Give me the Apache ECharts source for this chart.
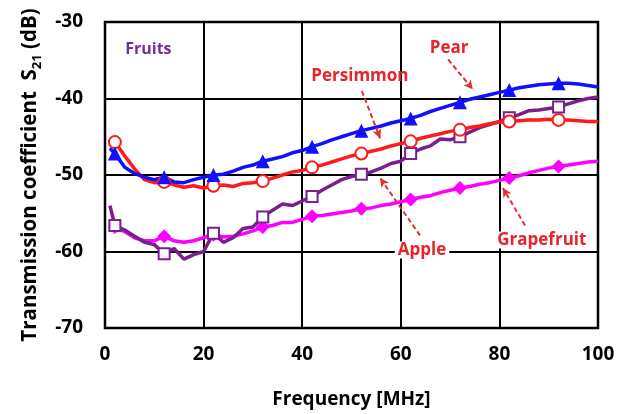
<!DOCTYPE html>
<html>
<head>
<meta charset="utf-8">
<script src="https://cdn.jsdelivr.net/npm/echarts@6/dist/echarts.min.js"></script>
<style>
  html, body { margin: 0; padding: 0; background: #fff; }
  #main { width: 629px; height: 414px; }
</style>
</head>
<body>
<div id="main"></div>
<script>
// frequency points [MHz]
var freq = [1, 2, 4, 6, 8, 10, 12, 14, 16, 18, 20, 22, 24, 26, 28, 30, 32, 34, 36, 38, 40,
  42, 44, 46, 48, 50, 52, 54, 56, 58, 60, 62, 64, 66, 68, 70, 72, 74, 76, 78, 80,
  82, 84, 86, 88, 90, 92, 94, 96, 98, 100];

// S21 [dB]
var pear = [-46.5, -47.2, -49.0, -49.8, -50.3, -50.6, -50.3, -50.9, -51.0, -50.6, -50.3,
  -50.0, -49.9, -49.5, -49.0, -48.7, -48.2, -47.9, -47.6, -47.1, -46.8,
  -46.3, -45.9, -45.4, -45.0, -44.6, -44.2, -43.9, -43.6, -43.2, -42.9,
  -42.6, -42.2, -41.7, -41.3, -40.9, -40.5, -40.1, -39.8, -39.5, -39.2,
  -38.9, -38.6, -38.4, -38.2, -38.1, -38.0, -38.0, -38.1, -38.3, -38.5];
var persimmon = [-45.3, -45.7, -47.5, -49.2, -50.6, -51.0, -50.9, -51.3, -51.6, -51.4, -51.7,
  -51.4, -51.3, -51.5, -51.1, -51.0, -50.8, -50.4, -50.0, -49.6, -49.4,
  -49.0, -48.7, -48.3, -47.9, -47.5, -47.2, -46.9, -46.6, -46.2, -45.9,
  -45.6, -45.2, -44.9, -44.6, -44.3, -44.1, -43.8, -43.6, -43.3, -43.1,
  -43.0, -42.9, -42.8, -42.8, -42.7, -42.8, -42.8, -42.9, -43.0, -43.0];
var apple = [-54.0, -56.6, -57.2, -58.0, -58.8, -59.1, -60.3, -59.6, -61.0, -60.4, -60.0,
  -57.6, -58.8, -58.2, -57.0, -56.8, -55.5, -54.6, -53.8, -54.0, -53.4,
  -52.8, -52.0, -51.3, -50.6, -50.2, -49.9, -49.6, -49.1, -48.5, -48.2,
  -47.2, -46.6, -46.2, -45.3, -45.4, -45.0, -44.4, -43.8, -43.4, -43.0,
  -42.5, -42.1, -41.6, -41.5, -41.3, -41.1, -40.7, -40.3, -40.0, -39.8];
var grapefruit = [-56.5, -56.8, -57.4, -58.2, -58.6, -58.6, -58.0, -58.6, -58.8, -58.6, -58.2,
  -57.8, -58.1, -58.0, -57.7, -57.3, -56.8, -56.6, -56.2, -56.2, -55.8,
  -55.4, -55.3, -55.1, -54.9, -54.7, -54.4, -54.3, -54.0, -53.8, -53.5,
  -53.2, -52.9, -52.7, -52.3, -52.0, -51.7, -51.5, -51.2, -51.0, -50.7,
  -50.4, -50.1, -49.7, -49.4, -49.1, -48.9, -48.7, -48.5, -48.3, -48.2];

var FONT = '"Open Sans", "Noto Sans", sans-serif';
var labelRed = '#e8232a';

function pairs(ys) {
  return freq.map(function (f, i) { return [f, ys[i]]; });
}

// markers only every 10 MHz (2, 12, 22 ...)
function markSize(size) {
  return function (v) { return (v[0] % 10 === 2) ? size : 0; };
}

function fruit(name, ys, color, symbol, size, extra) {
  var s = {
    name: name,
    type: 'line',
    data: pairs(ys),
    symbol: symbol,
    symbolSize: markSize(size),
    showAllSymbol: true,
    lineStyle: { color: color, width: 3.5 },
    itemStyle: { color: color, borderWidth: 2.5 },
    z: 3,
    silent: true,
    animation: false
  };
  return Object.assign(s, extra || {});
}

function note(text, x, y, bg, color, size) {
  return {
    coord: [x, y],
    symbol: 'rect',
    symbolSize: 1,
    itemStyle: { color: 'rgba(0,0,0,0)' },
    label: {
      show: true, position: 'inside', formatter: text,
      color: color || labelRed, fontFamily: FONT, fontWeight: 'bold', fontSize: size || 17,
      backgroundColor: bg ? '#fff' : 'transparent', padding: [0, 3]
    }
  };
}

function arrow(x1, y1, x2, y2) {
  return [{ coord: [x1, y1] }, { coord: [x2, y2] }];
}

var chart = echarts.init(document.getElementById('main'));
chart.setOption({
  animation: false,
  grid: { left: 105, right: 31, top: 22, bottom: 82, show: true, borderColor: '#000', borderWidth: 2.5, backgroundColor: 'transparent' },
  xAxis: {
    type: 'value', min: 0, max: 100, interval: 20,
    name: 'Frequency [MHz]', nameLocation: 'middle', nameGap: 62,
    nameTextStyle: { color: '#000', fontFamily: FONT, fontWeight: 'bold', fontSize: 19 },
    axisLine: { show: false }, axisTick: { show: false },
    axisLabel: { color: '#000', fontFamily: FONT, fontWeight: 'bold', fontSize: 19, margin: 17 },
    splitLine: { lineStyle: { color: '#000', width: 2 } }
  },
  yAxis: {
    type: 'value', min: -70, max: -30, interval: 10,
    name: '{a|Transmission coefficient  S}{s|21}{a| (dB)}', nameLocation: 'middle', nameGap: 54, nameRotate: 90,
    nameTextStyle: {
      rich: {
        a: { color: '#000', fontFamily: FONT, fontWeight: 'bold', fontSize: 20.5, lineHeight: 24 },
        s: { color: '#000', fontFamily: FONT, fontWeight: 'bold', fontSize: 13, lineHeight: 24, verticalAlign: 'bottom', padding: [0, 0, -2, 0] }
      }
    },
    axisLine: { show: false }, axisTick: { show: false },
    axisLabel: { color: '#000', fontFamily: FONT, fontWeight: 'bold', fontSize: 19, margin: 22, padding: [8, 0, 0, 0] },
    splitLine: { lineStyle: { color: '#000', width: 2 } }
  },
  series: [
    fruit('Grapefruit', grapefruit, '#ff00ff', 'diamond', 14),
    fruit('Apple', apple, '#7a1f8e', 'emptyRect', 11),
    fruit('Persimmon', persimmon, '#ff1a1a', 'emptyCircle', 12),
    fruit('Pear', pear, '#1010ff', 'triangle', 14, {
      markLine: {
        silent: true, symbol: ['none', 'arrow'], symbolSize: [7, 9],
        lineStyle: { color: '#e03030', type: [5, 3], width: 2 },
        label: { show: false },
        data: [
          arrow(69.6, -34.9, 74.6, -38.8),
          arrow(52.1, -39.0, 55.8, -45.2),
          arrow(63.9, -57.9, 55.8, -50.4),
          arrow(85.2, -56.6, 80.7, -51.7)
        ]
      },
      markPoint: {
        silent: true, z: 10,
        data: [
          note('Pear', 69.8, -33.4),
          note('Persimmon', 51.7, -37.1),
          note('Apple', 64.3, -59.8, true),
          note('Grapefruit', 88.6, -58.5, true),
          note('Fruits', 8.8, -33.6, false, '#7030a0', 16)
        ]
      }
    })
  ]
});
</script>
</body>
</html>
